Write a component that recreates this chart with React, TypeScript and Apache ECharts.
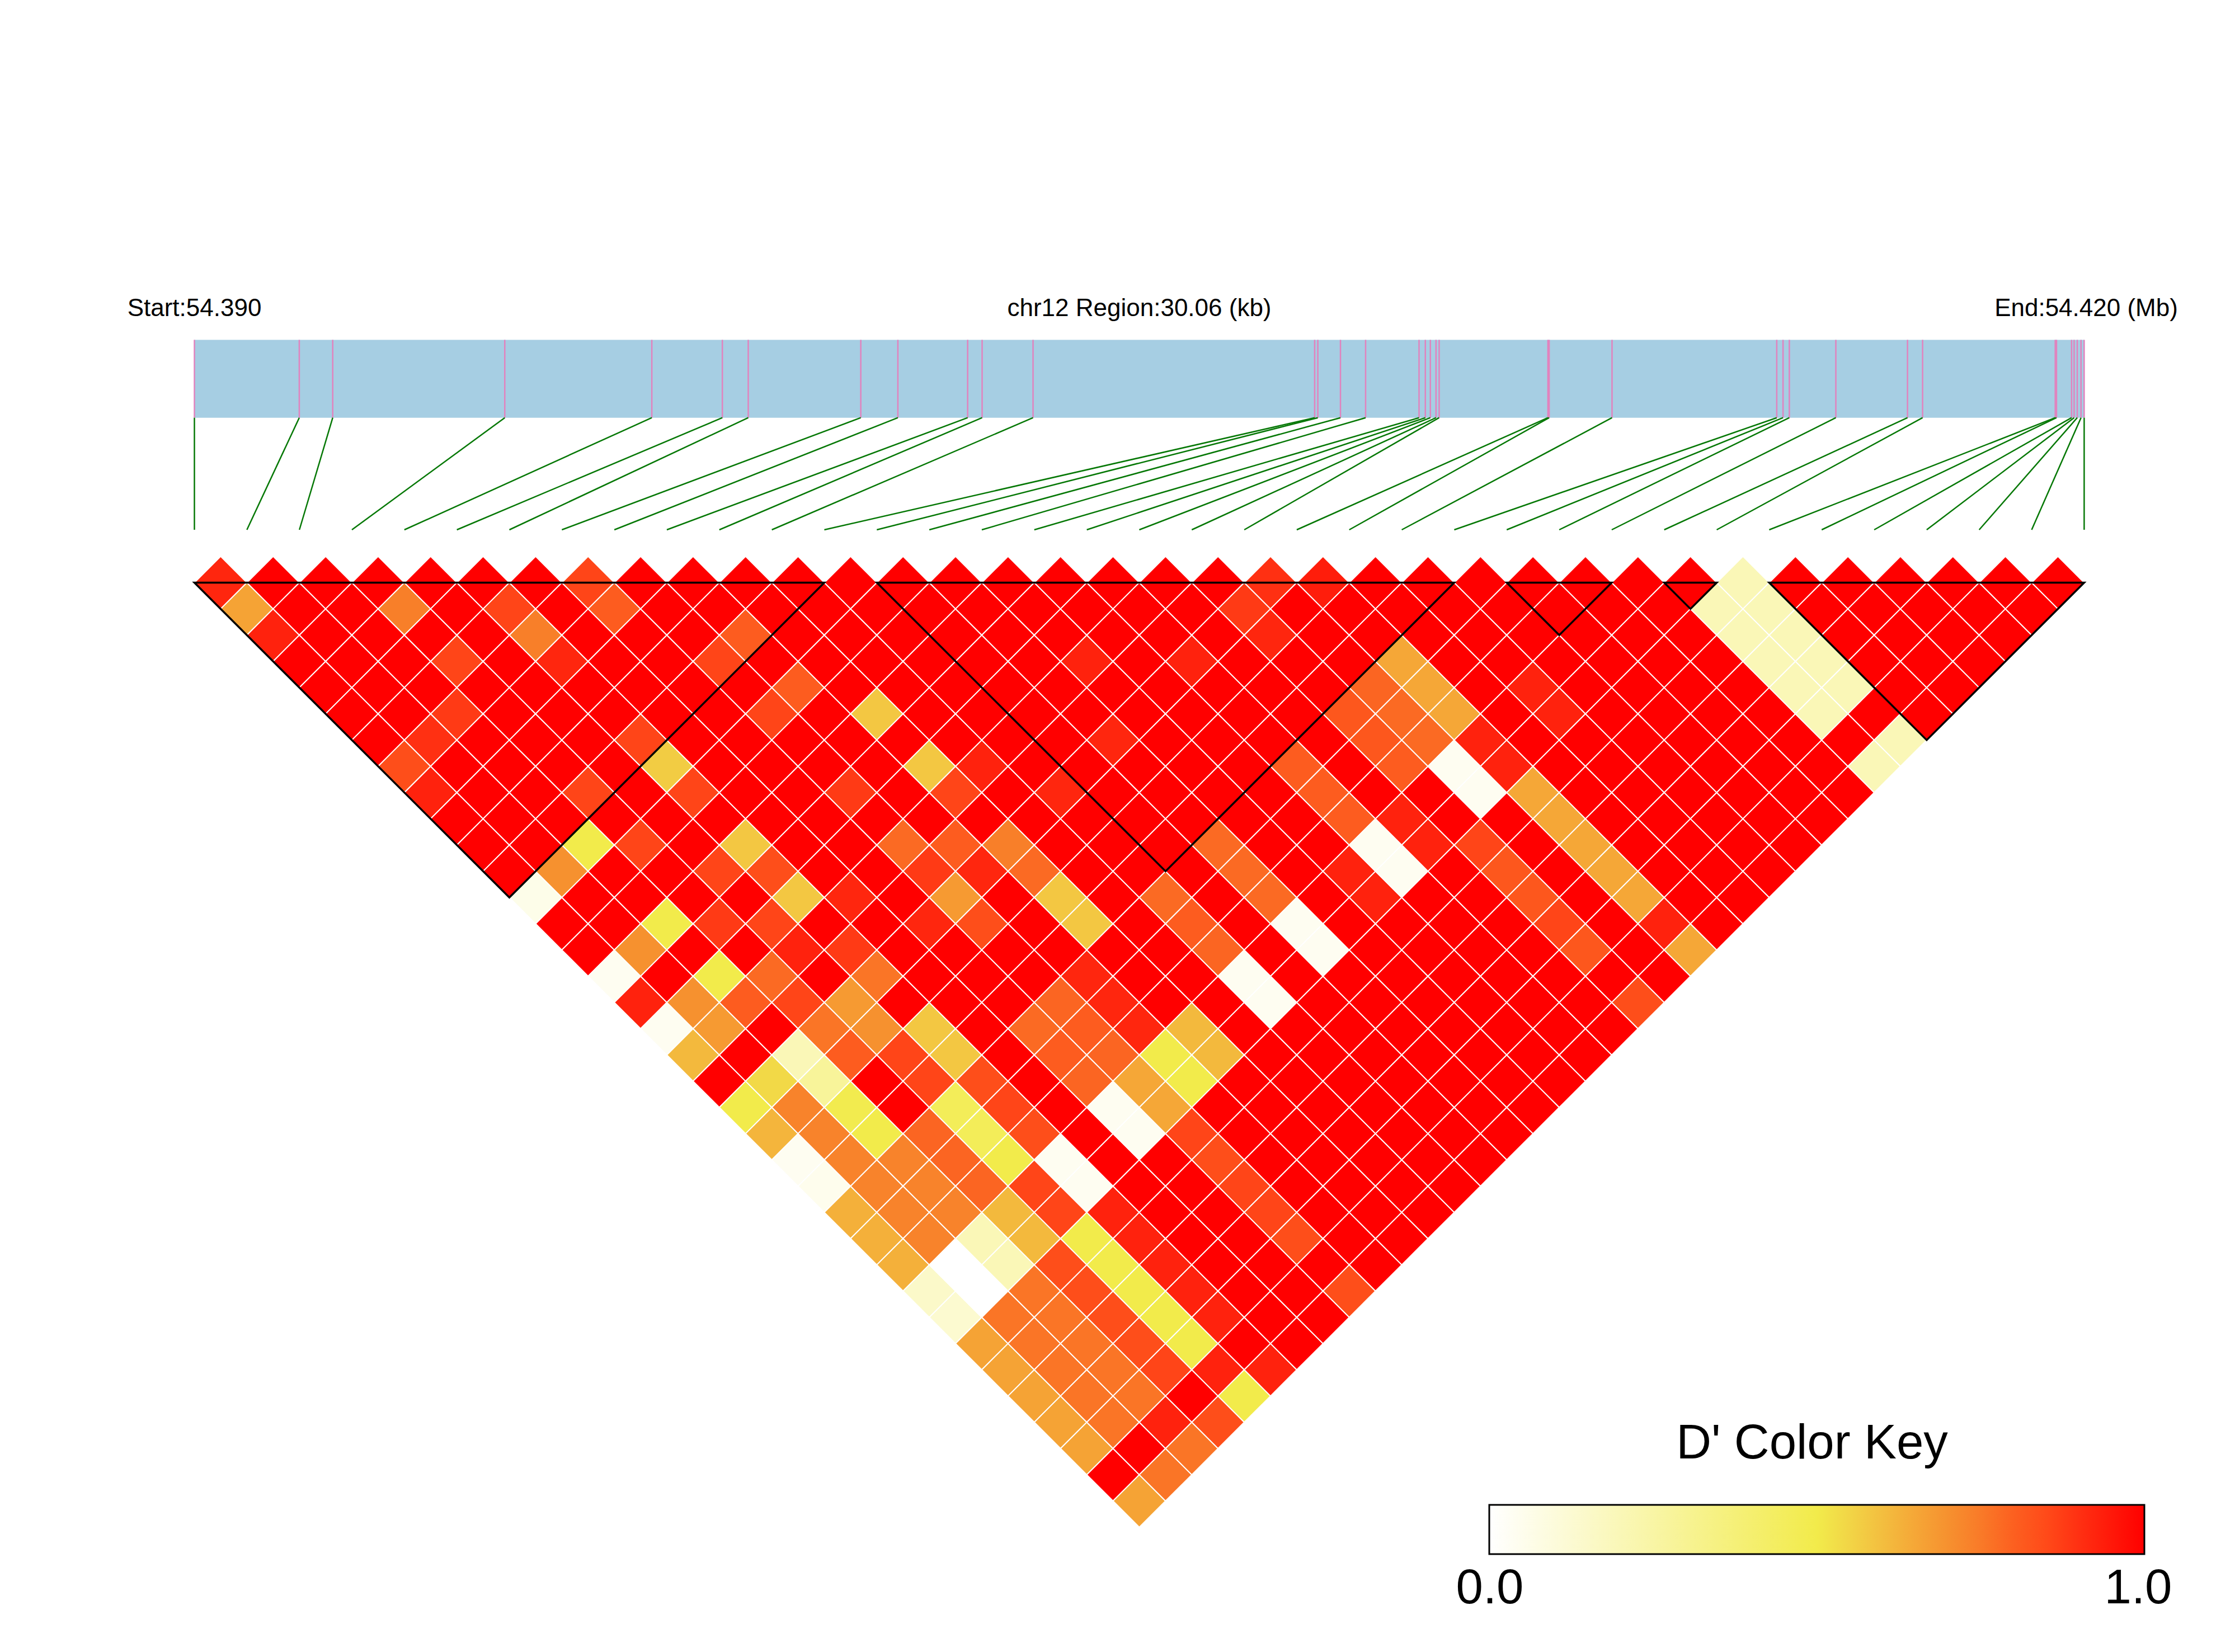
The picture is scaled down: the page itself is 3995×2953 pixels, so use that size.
import React, { useEffect, useRef } from "react";
import * as echarts from "echarts";

const REGION_KB = 30.06;
const START_LABEL = "Start:54.390";
const REGION_LABEL = "chr12 Region:30.06 (kb)";
const END_LABEL = "End:54.420 (Mb)";
const KEY_TITLE = "D' Color Key";
const KEY_MIN_LABEL = "0.0";
const KEY_MAX_LABEL = "1.0";

// SNP positions along the region, in kb from its start
const SNP_KB = [
  0, 1.668, 2.2, 4.937, 7.276, 8.398, 8.81, 10.6, 11.19, 12.3, 12.53, 13.34,
  17.82, 17.87, 18.23, 18.63, 19.48, 19.58, 19.66, 19.75, 19.8, 21.53, 21.55, 22.55,
  25.17, 25.27, 25.37, 26.11, 27.25, 27.49, 29.6, 29.62, 29.86, 29.9, 29.95, 30.01, 30.06,
];

// D' of SNP i with SNPs i+1 .. 36, one row per SNP i
const DPRIME_ROWS: number[][] = [
  [.92,.66,.93,1,1,1,1,.84,.93,1,1,1,.06,1,1,.04,.93,.04,.61,1,.5,.62,.04,.05,.63,.63,.63,.15,.13,.66,.66,.66,.66,.66,1,.66],
  [1,1,1,1,1,1,.9,1,1,1,1,.7,1,1,.7,1,.7,.68,1,.54,.73,.73,.73,.73,.73,.73,0,0,.76,.76,.76,.76,.76,1,.76],
  [1,1,1,1,1,.88,1,1,1,1,.5,1,1,.5,1,.5,.81,1,.2,.28,.49,.5,.73,.73,.73,.2,.2,.76,.76,.76,.76,.76,.93,.76],
  [1,.74,1,.86,1,1,1,1,.86,1,.86,1,1,.88,1,.78,.86,.76,.81,1,1,.79,.79,.79,.61,.61,.84,.84,.84,.84,.86,1,.84],
  [1,1,1,1,1,1,1,1,1,1,1,.86,1,.86,.93,1,.68,.7,.86,.86,.46,.46,.5,.86,.86,.5,.5,.5,.5,.5,.93,.5],
  [1,.86,.74,.92,1,1,.86,.57,.86,1,.58,.84,.58,1,.88,.76,1,.58,.58,.84,.86,.84,.04,.04,.93,.93,.93,.93,.93,1,.93],
  [1,1,1,1,1,1,1,1,1,1,1,1,.92,1,1,1,1,1,1,1,1,1,1,1,1,1,1,1,1,1],
  [.86,.81,1,1,1,1,1,1,1,1,1,1,1,.92,1,1,1,.78,.81,.79,.04,.04,1,1,1,1,1,1,1],
  [1,1,1,.86,1,.86,1,1,.88,1,.78,.88,.68,.84,1,1,.79,.81,.79,.65,.65,.86,.84,.86,.86,.84,1,.84],
  [1,1,.81,1,.81,1,1,1,1,1,.81,.92,1,1,1,.92,.92,.92,.5,.5,1,1,1,1,1,1,1],
  [1,1,1,1,1,.58,1,.58,.86,1,.74,.78,.58,.58,1,1,1,.61,.61,1,1,1,1,1,1,1],
  [1,1,1,1,1,1,1,.93,1,1,1,1,1,1,1,1,1,1,1,1,1,1,1,1,1],
  [1,1,1,1,1,1,1,1,.92,1,1,1,.78,.81,.79,.04,.04,1,1,1,1,1,1,1],
  [1,1,1,1,1,1,1,1,1,1,1,1,1,1,1,1,1,1,1,1,1,1,1],
  [1,1,1,1,1,1,.92,1,1,1,.78,.78,.78,.04,.04,1,1,1,1,1,1,1],
  [1,1,1,.93,1,1,1,1,1,1,1,1,1,1,1,1,1,1,1,1,1],
  [1,1,1,1,1,1,1,1,1,1,1,.93,.93,1,1,1,1,1,1,1],
  [1,1,1,.93,1,1,1,.81,.81,.81,.04,.04,1,1,1,1,1,1,1],
  [1,1,1,1,1,1,1,1,1,.93,.93,1,1,1,1,1,1,1],
  [1,.88,.92,1,1,.82,.82,.81,1,1,.86,.82,.82,.86,.82,1,.84],
  [.9,1,1,1,.79,.78,.78,.04,.04,1,1,1,1,1,1,1],
  [.94,1,1,.65,.65,.65,.93,.93,.65,.65,.65,.65,.65,.93,.65],
  [1,1,1,1,1,1,1,1,1,1,1,1,1,1],
  [1,1,1,1,.93,.93,1,1,1,1,1,1,1],
  [1,1,1,1,1,1,1,1,1,1,1,1],
  [1,1,1,1,1,1,1,1,1,1,1],
  [1,1,1,1,1,1,1,1,1,1],
  [1,1,1,1,1,1,1,1,1],
  [1,.2,.2,.2,.2,.2,1,.2],
  [.2,.2,.2,.2,.2,1,.2],
  [1,1,1,1,1,1],
  [1,1,1,1,1],
  [1,1,1,1],
  [1,1,1],
  [1,1],
  [1],
];

// Haplotype blocks as [first SNP, last SNP]
const LD_BLOCKS = [[0, 12], [13, 24], [25, 27], [28, 29], [30, 36]];

// Colour key stops: [D', colour]
const KEY_STOPS: [number, string][] = [
  [0, "#FFFFFF"], [0.5, "#F2EB4B"], [0.55, "#F2D546"], [0.6, "#F3BE3F"], [0.65, "#F5A737"],
  [0.7, "#F6912F"], [0.75, "#F97A28"], [0.8, "#FC6020"], [0.85, "#FF4A19"], [0.9, "#FF3012"],
  [0.95, "#FF1809"], [1, "#FF0000"],
];

function hexToRgb(h: string) {
  return [1, 3, 5].map((k) => parseInt(h.slice(k, k + 2), 16));
}
function colorOf(v: number) {
  for (let k = 1; k < KEY_STOPS.length; k++) {
    const [a, ca] = KEY_STOPS[k - 1];
    const [b, cb] = KEY_STOPS[k];
    if (v <= b) {
      const t = (v - a) / (b - a);
      const A = hexToRgb(ca);
      const B = hexToRgb(cb);
      return `rgb(${A.map((c, n) => Math.round(c + (B[n] - c) * t)).join(",")})`;
    }
  }
  return "#FF0000";
}

const FONT = "Liberation Sans";
const STEP_X = 93.83;
const STEP_Y = 46.9;
const LEFT = 347.5;
const LINE_Y = 1041.5;
const MAP_TOP = 607.5;
const MAP_BOTTOM = 947;
const BAR_BOTTOM = 0.59; // map-axis value at the lower edge of the bar

export default function App() {
  const ref = useRef<HTMLDivElement>(null);
  useEffect(() => {
    document.body.style.margin = "0";
    const chart = echarts.init(ref.current!, null, { renderer: "svg" });

    const cells: number[][] = [];
    DPRIME_ROWS.forEach((row, i) => row.forEach((v, n) => cells.push([i, i + n + 1, v])));

    const hiddenValue = (o: any) => ({ type: "value", show: false, scale: false, ...o });

    chart.setOption({
      animation: false,
      backgroundColor: "#FFFFFF",
      tooltip: { show: false },
      grid: [
        { left: LEFT, top: LINE_Y - STEP_Y, width: STEP_X * 36, height: STEP_Y * 37 },
        { left: LEFT, top: MAP_TOP, width: STEP_X * 36, height: MAP_BOTTOM - MAP_TOP },
      ],
      xAxis: [
        hiddenValue({ gridIndex: 0, min: 0, max: 36 }),
        hiddenValue({ gridIndex: 1, min: 0, max: REGION_KB }),
      ],
      yAxis: [
        hiddenValue({ gridIndex: 0, min: -1, max: 36, inverse: true }),
        hiddenValue({ gridIndex: 1, min: 0, max: 1 }),
      ],
      series: [
        {
          type: "custom",
          name: "D'",
          xAxisIndex: 0,
          yAxisIndex: 0,
          z: 2,
          silent: true,
          data: cells,
          renderItem: (_p: any, api: any) => {
            const i = api.value(0);
            const j = api.value(1);
            const v = api.value(2);
            const cx = (i + j) / 2;
            const cy = j - i - 1;
            const pts = [
              api.coord([cx, cy - 1]),
              api.coord([cx + 0.5, cy]),
              api.coord([cx, cy + 1]),
              api.coord([cx - 0.5, cy]),
            ];
            return {
              type: "polygon",
              shape: { points: pts },
              style: { fill: colorOf(v), stroke: "#FFFFFF", lineWidth: 2 },
            };
          },
        },
        {
          type: "custom",
          name: "Blocks",
          xAxisIndex: 0,
          yAxisIndex: 0,
          z: 3,
          silent: true,
          data: LD_BLOCKS,
          renderItem: (_p: any, api: any) => {
            const a = api.value(0);
            const b = api.value(1);
            return {
              type: "polygon",
              shape: {
                points: [api.coord([a, 0]), api.coord([b, 0]), api.coord([(a + b) / 2, b - a])],
              },
              style: { fill: "none", stroke: "#000000", lineWidth: 3.5, lineJoin: "miter" },
            };
          },
        },
        {
          type: "custom",
          name: "Region",
          xAxisIndex: 1,
          yAxisIndex: 1,
          z: 2,
          silent: true,
          data: [[0, REGION_KB]],
          renderItem: (_p: any, api: any) => {
            const p0 = api.coord([api.value(0), 1]);
            const p1 = api.coord([api.value(1), BAR_BOTTOM]);
            return {
              type: "rect",
              shape: { x: p0[0], y: p0[1], width: p1[0] - p0[0], height: p1[1] - p0[1] },
              style: { fill: "#A6CEE3" },
            };
          },
        },
        {
          type: "custom",
          name: "SNP markers",
          xAxisIndex: 1,
          yAxisIndex: 1,
          z: 3,
          silent: true,
          data: SNP_KB.map((kb, n) => [kb, n]),
          renderItem: (_p: any, api: any) => {
            const kb = api.value(0);
            const n = api.value(1);
            const top = api.coord([kb, 1]);
            const mid = api.coord([kb, BAR_BOTTOM]);
            const low = api.coord([(n / 36) * REGION_KB, 0]);
            return {
              type: "group",
              children: [
                {
                  type: "line",
                  shape: { x1: top[0], y1: top[1], x2: mid[0], y2: mid[1] },
                  style: { stroke: "#E183BE", lineWidth: 2.5 },
                },
                {
                  type: "line",
                  shape: { x1: mid[0], y1: mid[1], x2: low[0], y2: low[1] },
                  style: { stroke: "#067806", lineWidth: 2.5 },
                },
              ],
            };
          },
        },
      ],
      graphic: [
        { type: "text", x: LEFT, y: 549, style: { text: START_LABEL, font: `44px "${FONT}"`, fill: "#000", textAlign: "center", textVerticalAlign: "middle" } },
        { type: "text", x: 2036.5, y: 549, style: { text: REGION_LABEL, font: `44px "${FONT}"`, fill: "#000", textAlign: "center", textVerticalAlign: "middle" } },
        { type: "text", x: 3729, y: 549, style: { text: END_LABEL, font: `44px "${FONT}"`, fill: "#000", textAlign: "center", textVerticalAlign: "middle" } },
        {
          type: "rect",
          shape: { x: 2662, y: 2690, width: 1171, height: 88 },
          style: {
            fill: new echarts.graphic.LinearGradient(
              0, 0, 1, 0,
              KEY_STOPS.map(([offset, color]) => ({ offset, color })),
            ),
            stroke: "#000",
            lineWidth: 3,
          },
        },
        { type: "text", x: 3239, y: 2576, style: { text: KEY_TITLE, font: `87px "${FONT}"`, fill: "#000", textAlign: "center", textVerticalAlign: "middle" } },
        { type: "text", x: 2663, y: 2835, style: { text: KEY_MIN_LABEL, font: `87px "${FONT}"`, fill: "#000", textAlign: "center", textVerticalAlign: "middle" } },
        { type: "text", x: 3822, y: 2835, style: { text: KEY_MAX_LABEL, font: `87px "${FONT}"`, fill: "#000", textAlign: "center", textVerticalAlign: "middle" } },
      ],
    });
    return () => chart.dispose();
  }, []);
  return (
    <div
      ref={ref}
      style={{ position: "absolute", left: 0, top: 0, width: 3995, height: 2953, background: "#fff" }}
    />
  );
}
